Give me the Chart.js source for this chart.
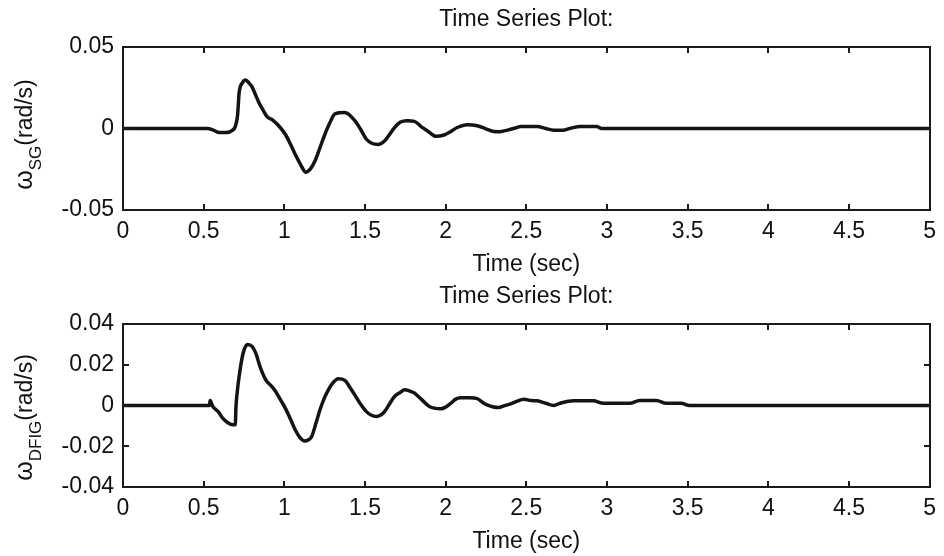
<!DOCTYPE html>
<html>
<head>
<meta charset="utf-8">
<script src="https://cdn.jsdelivr.net/npm/chart.js@4/dist/chart.umd.min.js"></script>
<style>
  body { margin: 0; background: #fff; }
  .painel { position: absolute; left: 0; width: 944px; height: 278px; }
</style>
</head>
<body>
<div class="painel" style="top:0"><canvas id="chartSG" width="944" height="278"></canvas></div>
<div class="painel" style="top:277px"><canvas id="chartDFIG" width="944" height="278"></canvas></div>
<script>
// dados (tempo em s, velocidade em rad/s)
const tempoSG = [0, 0.525, 0.56, 0.597, 0.64, 0.68, 0.695, 0.71, 0.72, 0.74, 0.761, 0.78, 0.80, 0.82, 0.842, 0.87, 0.893, 0.93, 0.965,
  1.006, 1.04, 1.068, 1.10, 1.133, 1.16, 1.19, 1.22, 1.252, 1.28, 1.314, 1.375, 1.437, 1.47, 1.509, 1.545, 1.58, 1.621, 1.65, 1.683,
  1.72, 1.76, 1.806, 1.85, 1.888, 1.94, 1.99, 2.03, 2.072, 2.134, 2.196, 2.25, 2.298, 2.33, 2.383, 2.442, 2.465, 2.567, 2.62, 2.67,
  2.73, 2.78, 2.834, 2.936, 2.967, 5];
const omegaSG = [0, 0, -0.001, -0.0025, -0.0025, -0.001, 0.001, 0.008, 0.022, 0.028, 0.0297, 0.028, 0.0255, 0.021, 0.016, 0.011, 0.0073, 0.005, 0.0017,
  -0.0035, -0.010, -0.016, -0.022, -0.0268, -0.025, -0.020, -0.012, -0.0035, 0.003, 0.009, 0.0098, 0.0048, 0, -0.0066, -0.0092, -0.0098, -0.0077, -0.004, 0.0006,
  0.004, 0.0048, 0.0044, 0.001, -0.0015, -0.0048, -0.004, -0.002, 0.0006, 0.0023, 0.0017, -0.0002, -0.0019, -0.002, -0.001, 0.0006, 0.0012, 0.0012, 0, -0.001,
  -0.001, 0.0003, 0.0012, 0.0012, 0, 0];

const tempoDFIG = [0, 0.536, 0.54, 0.557, 0.59, 0.618, 0.65, 0.68, 0.696, 0.70, 0.71, 0.72, 0.735, 0.751, 0.772, 0.80, 0.823, 0.85, 0.885, 0.92, 0.946, 0.975,
  1.006, 1.04, 1.068, 1.10, 1.125, 1.15, 1.17, 1.195, 1.221, 1.25, 1.273, 1.30, 1.334, 1.375, 1.41, 1.437, 1.47, 1.509, 1.54, 1.57, 1.60, 1.621, 1.65, 1.683,
  1.72, 1.745, 1.78, 1.806, 1.85, 1.899, 1.97, 2.0, 2.032, 2.06, 2.093, 2.15, 2.196, 2.23, 2.257, 2.29, 2.329, 2.36, 2.403, 2.44, 2.485, 2.53, 2.567, 2.62,
  2.67, 2.71, 2.793, 2.916, 2.978, 3.142, 3.203, 3.306, 3.367, 3.46, 3.51, 5];
const omegaDFIG = [0, 0, 0.0025, -0.0005, -0.003, -0.0062, -0.0085, -0.0095, -0.0095, -0.001, 0.008, 0.0143, 0.022, 0.0274, 0.030, 0.029, 0.0257, 0.019, 0.0126, 0.0095, 0.0069, 0.003,
  -0.0013, -0.007, -0.012, -0.016, -0.0174, -0.0168, -0.0152, -0.009, -0.0021, 0.004, 0.0077, 0.011, 0.0131, 0.0123, 0.0085, 0.0052, 0.001, -0.003, -0.0048, -0.0054, -0.0045, -0.003, 0.0005, 0.0044,
  0.0065, 0.0077, 0.007, 0.0061, 0.003, -0.0005, -0.0016, -0.0008, 0.0011, 0.003, 0.0038, 0.0038, 0.0034, 0.0015, 0.0003, -0.0006, -0.001, -0.0002, 0.0008, 0.002, 0.0031, 0.0024, 0.0023, 0.0011,
  0, 0.0011, 0.0023, 0.0023, 0.0011, 0.0011, 0.0025, 0.0025, 0.0011, 0.0011, 0, 0];

const ticksTempo = [0, 0.5, 1, 1.5, 2, 2.5, 3, 3.5, 4, 4.5, 5];
const ticksSG = [-0.05, 0, 0.05];
const ticksDFIG = [-0.04, -0.02, 0, 0.02, 0.04];

const fonte = "'Liberation Sans', Arial, sans-serif";
Chart.defaults.font.family = fonte;
Chart.defaults.color = '#111';

// caixa com ticks para dentro (estilo matlab) + rotulo do eixo y com subscrito
const caixaMatlab = {
  id: 'caixaMatlab',
  afterDraw(chart, args, opts) {
    const ctx = chart.ctx;
    const a = chart.chartArea;
    const sx = chart.scales.x, sy = chart.scales.y;
    const L = Math.round(a.left), R = Math.round(a.right);
    const T = Math.round(a.top), B = Math.round(a.bottom);
    ctx.save();
    ctx.fillStyle = '#1a1a1a';
    ctx.fillRect(L - 1, T - 1, R - L + 2, 2);
    ctx.fillRect(L - 1, B - 1, R - L + 2, 2);
    ctx.fillRect(L - 1, T - 1, 2, B - T + 2);
    ctx.fillRect(R - 1, T - 1, 2, B - T + 2);
    sx.ticks.forEach(function (t) {
      const px = Math.round(sx.getPixelForValue(t.value));
      ctx.fillRect(px - 1, T, 2, 6);
      ctx.fillRect(px - 1, B - 6, 2, 6);
    });
    sy.ticks.forEach(function (t) {
      const py = Math.round(sy.getPixelForValue(t.value));
      ctx.fillRect(L, py - 1, 6, 2);
      ctx.fillRect(R - 6, py - 1, 6, 2);
    });

    // rotulo y: simbolo + subscrito + unidade
    ctx.fillStyle = '#111';
    ctx.textBaseline = 'alphabetic';
    ctx.textAlign = 'left';
    const fGrande = '23px ' + fonte, fSub = '17px ' + fonte, fSimb = '25px ' + fonte;
    ctx.font = fSimb;
    const w1 = ctx.measureText(opts.simbolo).width;
    ctx.font = fGrande;
    const w3 = ctx.measureText(opts.unidade).width;
    ctx.font = fSub;
    const w2 = ctx.measureText(opts.sub).width;
    ctx.translate(opts.xBase, (a.top + a.bottom) / 2 + opts.deslocamento);
    ctx.rotate(-Math.PI / 2);
    let x = -(w1 + w2 + w3) / 2;
    ctx.font = fSimb;
    ctx.fillText(opts.simbolo, x, 0);
    x += w1;
    ctx.font = fSub;
    ctx.fillText(opts.sub, x, 9);
    x += w2;
    ctx.font = fGrande;
    ctx.fillText(opts.unidade, x, 0);
    ctx.restore();
  }
};

function criarGrafico(id, tempos, valores, ticksY, sub, deslocamento) {
  const pontos = tempos.map(function (t, i) { return { x: t, y: valores[i] }; });
  return new Chart(document.getElementById(id), {
    type: 'line',
    data: {
      datasets: [{
        data: pontos,
        borderColor: '#141414',
        borderWidth: 3.5,
        pointRadius: 0,
        cubicInterpolationMode: 'monotone',
        fill: false
      }]
    },
    options: {
      responsive: false,
      animation: false,
      layout: { padding: { left: 0, right: 9, top: 0, bottom: 0 } },
      plugins: {
        legend: { display: false },
        tooltip: { enabled: false },
        title: {
          display: true,
          fullSize: false,
          text: 'Time Series Plot:',
          color: '#111',
          font: { size: 23, weight: 'normal' },
          padding: { top: 6, bottom: 13.4 }
        },
        caixaMatlab: { simbolo: 'ω', sub: sub, unidade: '(rad/s)', xBase: 32, deslocamento: deslocamento }
      },
      scales: {
        x: {
          type: 'linear',
          min: 0,
          max: 5,
          afterBuildTicks: function (s) { s.ticks = ticksTempo.map(function (v) { return { value: v }; }); },
          afterFit: function (s) { s.height = 68; },
          grid: { display: false, drawTicks: false },
          border: { display: false },
          ticks: { font: { size: 23 }, color: '#111', padding: 8, maxRotation: 0, callback: function (v) { return String(v); } },
          title: { display: true, text: 'Time (sec)', color: '#111', font: { size: 23 }, padding: { top: 0, bottom: 0 } }
        },
        y: {
          type: 'linear',
          min: ticksY[0],
          max: ticksY[ticksY.length - 1],
          afterBuildTicks: function (s) { s.ticks = ticksY.map(function (v) { return { value: v }; }); },
          afterFit: function (s) { s.width = 123; },
          grid: { display: false, drawTicks: false },
          border: { display: false },
          ticks: { font: { size: 23 }, color: '#111', padding: 9, callback: function (v) { return String(v); } }
        }
      }
    },
    plugins: [caixaMatlab]
  });
}

criarGrafico('chartSG', tempoSG, omegaSG, ticksSG, 'SG', 6);
criarGrafico('chartDFIG', tempoDFIG, omegaDFIG, ticksDFIG, 'DFIG', 12);
</script>
</body>
</html>
